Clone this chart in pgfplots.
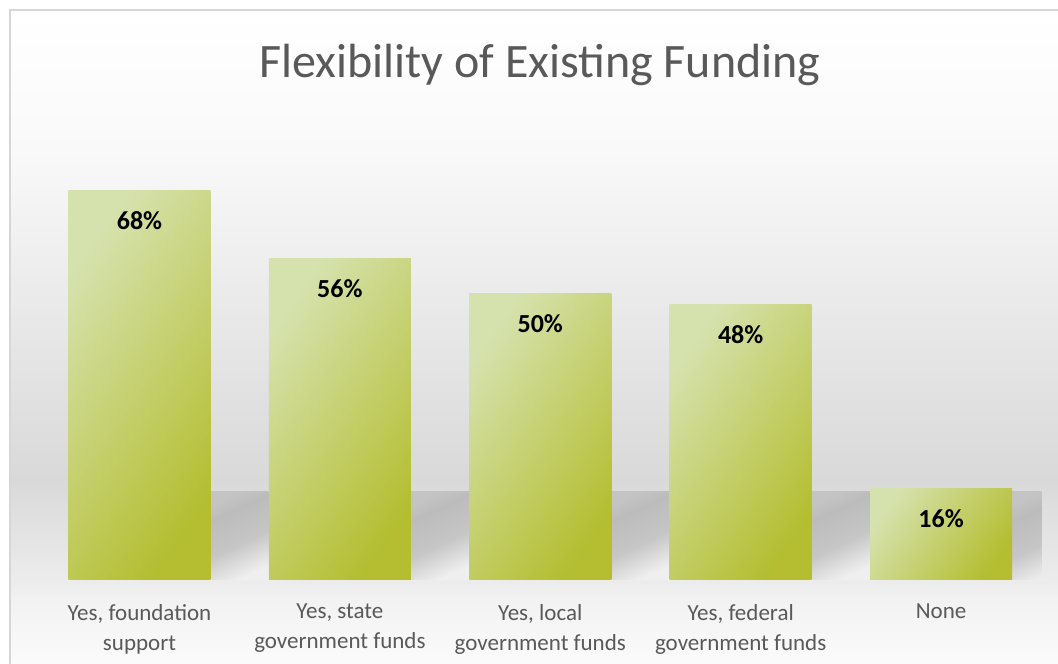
\documentclass[border=0pt]{standalone}
\usepackage{pgfplots}
\pgfplotsset{compat=1.18}
\usepackage{fontspec}
\setmainfont{Carlito}
\definecolor{txtgray}{HTML}{595959}
\definecolor{frame}{HTML}{D6D6D6}
\definecolor{barlight}{HTML}{D6E2AE}
\definecolor{bardark}{HTML}{B4BE30}
\definecolor{shA}{HTML}{EFEFEF}
\definecolor{shB}{HTML}{C6C6C6}
\definecolor{shC}{HTML}{BCBCBC}
\definecolor{shD}{HTML}{C4C4C4}
\definecolor{bgA}{HTML}{FBFBFB}
\definecolor{bgB}{HTML}{F2F2F2}
\definecolor{bgC}{HTML}{EDEDED}
\definecolor{bgD}{HTML}{D9D9D9}
\definecolor{bgE}{HTML}{EAEAEA}
\definecolor{bgF}{HTML}{F9F9F9}
\definecolor{bgG}{HTML}{FFFFFF}
\pgfdeclareverticalshading{bgshade}{100bp}{color(0bp)=(bgA); color(25bp)=(bgA); color(29.9bp)=(bgB); color(31bp)=(bgC); color(39.1bp)=(bgD); color(52.8bp)=(bgE); color(64.3bp)=(bgF); color(75bp)=(bgG); color(100bp)=(bgG)}
\pgfdeclareverticalshading{shadowsh}{100bp}{color(0bp)=(shA); color(25bp)=(shA); color(45bp)=(shB); color(66bp)=(shC); color(75bp)=(shD); color(100bp)=(shD)}
\pgfplotsset{
  shadowbar/.style={ybar, bar width=58pt, bar shift=100pt, draw=none, shading=shadowsh, shading angle=25},
  greenbar/.style={ybar, bar width=142pt, draw=none, top color=barlight, bottom color=bardark, shading angle=55, nodes near coords={\pgfmathprintnumber{\pgfplotspointmeta}\%}},
}
\begin{document}
\begin{tikzpicture}[x=1pt,y=1pt]
\useasboundingbox (0,0) rectangle (1058,664);
\clip (0,0) rectangle (1058,664);
\shade[shading=bgshade] (11,0) rectangle (1058,653);
\draw[frame, line width=2pt] (10,-10) rectangle (1070,654);
\node[text=txtgray, font=\fontsize{48}{58}\selectfont, anchor=base] at (540,586) {Flexibility of Existing Funding};
\begin{axis}[
  at={(39.3pt,84pt)}, anchor=south west,
  scale only axis,
  width=1002pt, height=458.8pt,
  xmin=-0.5, xmax=4.5, ymin=0, ymax=80,
  axis line style={draw=none},
  major tick length=0pt,
  ymajorticks=false,
  xtick={0,1,2,3,4},
  xticklabels={{Yes, foundation\\support},{Yes, state\\government funds},{Yes, local\\government funds},{Yes, federal\\government funds},{None}},
  xticklabel style={align=center, text=txtgray, font=\fontsize{23}{30}\selectfont, inner sep=0pt, anchor=north, yshift=-24pt},
  ybar, bar shift=0pt,
  /pgf/number format/assume math mode=true,
  every node near coord/.append style={font=\fontsize{26}{30}\selectfont\bfseries, text=black, anchor=base, yshift=-39pt, inner sep=0pt},
]
% shadows cast to the right of each bar
\addplot[shadowbar] coordinates {(0,15.5)};
\addplot[shadowbar] coordinates {(1,15.5)};
\addplot[shadowbar] coordinates {(2,15.5)};
\addplot[shadowbar] coordinates {(3,15.5)};
\addplot[shadowbar] coordinates {(4,15.5)};
% bars
\addplot[greenbar] coordinates {(0,68)};
\addplot[greenbar] coordinates {(1,56)};
\addplot[greenbar] coordinates {(2,50)};
\addplot[greenbar] coordinates {(3,48)};
\addplot[greenbar] coordinates {(4,16)};
\end{axis}
\end{tikzpicture}
\end{document}
